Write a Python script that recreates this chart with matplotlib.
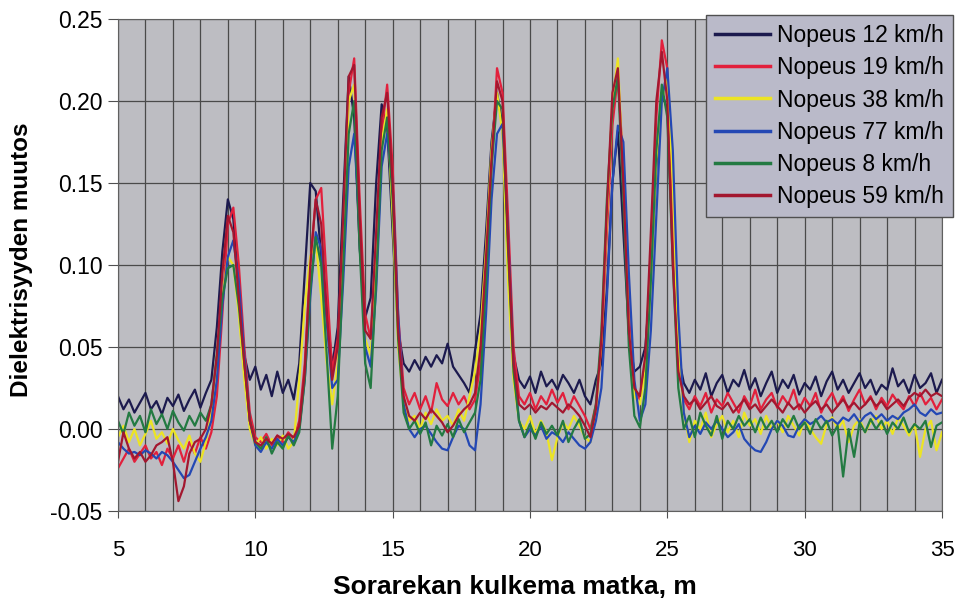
import numpy as np
import matplotlib
matplotlib.use("Agg")
import matplotlib.pyplot as plt
from matplotlib.ticker import MultipleLocator, FormatStrFormatter

plt.rcParams['font.family'] = ['Liberation Sans', 'DejaVu Sans']
plt.rcParams['axes.unicode_minus'] = False

# mittauspisteet 0.2 m välein (5 ... 35 m)
matka = np.round(np.arange(5.0, 35.01, 0.2), 1)

# dielektrisyyden muutos, arvot tuhannesosina (x 0.001), 10 arvoa / 2 m
v12 = [20, 12, 18, 10, 16, 22, 12, 17, 9, 19,
       14, 21, 11, 18, 24, 13, 22, 30, 62, 108,
       140, 128, 85, 45, 30, 38, 24, 33, 20, 35,
       22, 30, 18, 40, 95, 150, 145, 105, 75, 38,
       62, 140, 215, 190, 110, 68, 80, 150, 198, 185,
       120, 60, 40, 35, 42, 36, 44, 38, 45, 40,
       52, 38, 33, 28, 22, 48, 70, 120, 175, 205,
       185, 100, 45, 30, 25, 32, 22, 35, 26, 30,
       24, 33, 28, 22, 30, 20, 15, 30, 40, 85,
       150, 182, 120, 58, 35, 38, 50, 95, 160, 205,
       195, 110, 45, 28, 22, 30, 24, 34, 20, 28,
       33, 22, 30, 26, 36, 24, 31, 20, 28, 35,
       22, 30, 25, 33, 21, 28, 24, 32, 20, 29,
       35, 24, 30, 22, 28, 34, 25, 30, 21, 27,
       24, 37, 26, 30, 22, 33, 25, 28, 34, 22,
       30]

v19 = [-24, -18, -12, -20, -15, -10, -18, -14, -22, -12,
       -18, -10, -20, -8, -15, -5, -12, -2, 20, 70,
       125, 135, 100, 50, 10, -5, -8, -3, -10, -4,
       -8, -2, -6, 5, 40, 100, 140, 147, 90, 35,
       55, 120, 205, 226, 140, 70, 55, 110, 180, 210,
       160, 70, 25, 15, 22, 12, 20, 10, 28, 18,
       14, 22, 15, 20, 12, 18, 40, 95, 160, 220,
       205, 130, 50, 20, 15, 22, 12, 20, 15, 24,
       16, 22, 12, 20, 14, 8, 0, 15, 50, 120,
       185, 215, 160, 70, 25, 18, 40, 110, 190, 237,
       220, 120, 40, 18, 12, 20, 14, 22, 10, 18,
       14, 22, 16, 10, 20, 14, 24, 12, 18, 22,
       13, 20, 15, 24, 12, 19, 14, 22, 10, 17,
       22, 14, 20, 11, 18, 24, 15, 20, 12, 19,
       14, 21, 16, 12, 20, 14, 22, 15, 19, 12,
       18]

v38 = [-5, 2, -8, 0, -10, -3, 5, -6, -2, -9,
       0, -7, -12, -4, -15, -20, -8, 10, 45, 80,
       105, 100, 70, 30, 0, -10, -5, -12, -6, -10,
       -4, -12, -8, 30, 75, 105, 115, 80, 40, 15,
       40, 110, 200, 210, 120, 55, 45, 100, 175, 195,
       130, 50, 15, 5, 8, 0, 10, 3, 12, 5,
       8, 2, 12, 5, 20, 35, 60, 110, 170, 205,
       180, 90, 30, 5, 0, 8, -3, 5, -2, -19,
       -5, 4, 0, 8, 2, -5, -8, 10, 55, 130,
       200, 226, 150, 60, 20, 15, 35, 90, 165, 200,
       215, 150, 50, 10, -8, 5, 0, 10, -5, 3,
       8, -2, 5, -5, 10, 2, 6, -3, 8, 0,
       5, -2, 8, 2, -4, 6, 0, -5, -9, 3,
       7, 0, 5, -8, 2, 6, -2, 4, 8, 0,
       5, -3, 7, 2, -4, 3, -17, 0, 5, -13,
       -2]

v77 = [-8, -12, -15, -14, -16, -13, -15, -18, -14, -16,
       -20, -25, -30, -28, -20, -12, -5, 5, 30, 75,
       105, 115, 90, 45, 5, -10, -14, -8, -12, -6,
       -10, -5, -8, 0, 30, 80, 120, 110, 65, 25,
       30, 90, 160, 180, 120, 50, 38, 85, 160, 180,
       150, 70, 15, 0, -5, 0, 2, -3, -8, -12,
       -13, -5, 2, 0, -10, -13, 15, 70, 140, 180,
       186, 120, 40, 5, -5, 0, -4, 2, -6, -2,
       -4, -8, -2, -6, -10, -12, -8, 5, 25, 80,
       150, 185, 175, 95, 30, 5, 15, 60, 130, 200,
       220, 170, 70, 10, -5, 2, -3, 4, 0, 5,
       0, -5, -2, 3, -6, -10, -13, -14, -8, 0,
       5, 2, -4, -5, 2, 6, 3, 5, 8, 4,
       6, 3, 7, 5, 9, 4, 8, 10, 6, 9,
       5, 8, 6, 10, 12, 15, 10, 8, 12, 9,
       10]

v8 = [5, -3, 10, 2, 8, -2, 12, 3, 9, 0,
      11, 4, -1, 8, 2, 10, 5, 15, 45, 80,
      98, 100, 75, 40, 5, -8, -12, -5, -15, -8,
      -12, -4, -10, -2, 30, 85, 117, 100, 45, -12,
      20, 100, 180, 200, 110, 40, 25, 90, 170, 190,
      140, 55, 10, 0, 5, -3, 4, -10, 2, -4,
      3, -5, 6, -2, 4, 10, 30, 90, 160, 200,
      195, 110, 35, 5, -5, 3, -6, 4, -3, 2,
      -4, 5, -8, 0, 6, -6, -3, 15, 60, 140,
      195, 215, 140, 50, 8, 1, 25, 90, 170, 210,
      190, 100, 25, 0, 8, -5, 10, 2, -4, 8,
      -6, 5, 0, 8, 2, 6, -2, 7, 0, 5,
      -2, 6, 1, 8, 0, 4, -3, 6, 0, 5,
      -4, 2, -29, 0, -17, 4, -2, 6, 0, 5,
      -3, 4, 0, 7, -2, 3, 0, 5, -11, 2,
      4]

v59 = [-20, -2, -12, -18, -14, -20, -16, -10, -8, -5,
       -20, -44, -35, -15, -8, -6, 0, 15, 45, 95,
       130, 120, 80, 40, 5, -8, -10, -6, -9, -4,
       -6, -3, -5, 2, 35, 100, 140, 125, 70, 30,
       50, 130, 215, 222, 130, 60, 55, 120, 190, 205,
       150, 60, 20, 8, 5, 10, 6, 12, 8, 4,
       -2, 2, 8, 12, 15, 22, 50, 105, 165, 212,
       200, 115, 40, 15, 12, 15, 10, 14, 12, 16,
       13, 10, 15, 12, 8, 2, -5, 12, 55, 135,
       205, 220, 150, 60, 25, 20, 45, 120, 200, 230,
       200, 100, 35, 20, 15, 18, 12, 16, 20, 14,
       12, 16, 10, 14, 18, 12, 15, 10, 14, 18,
       14, 10, 16, 12, 15, 10, 14, 17, 12, 15,
       10, 14, 18, 13, 16, 12, 15, 19, 14, 17,
       12, 15, 18, 14, 19, 22, 20, 24, 20, 22,
       20]

sarjat = [v12, v19, v38, v77, v8, v59]
nimet = ['Nopeus 12 km/h', 'Nopeus 19 km/h', 'Nopeus 38 km/h',
         'Nopeus 77 km/h', 'Nopeus 8 km/h', 'Nopeus 59 km/h']
varit = ['#1c1a4e', '#e2203c', '#ece424', '#2448b4', '#237a42', '#a3172f']

fig, ax = plt.subplots(figsize=(9.56, 6.02), dpi=100)
fig.subplots_adjust(left=0.1234, right=942 / 956, bottom=0.1512, top=0.9684)
ax.set_facecolor('#bdbdc2')
ax.set_axisbelow(True)

for vals, lab, col in zip(sarjat, nimet, varit):
    ax.plot(matka, np.array(vals) / 1000, color=col, lw=1.6, label=lab)

ax.set_xlim(5, 35)
ax.set_ylim(-0.05, 0.25)
ax.xaxis.set_major_locator(MultipleLocator(5))
ax.xaxis.set_minor_locator(MultipleLocator(1))
ax.yaxis.set_major_locator(MultipleLocator(0.05))
ax.yaxis.set_major_formatter(FormatStrFormatter('%.2f'))
ax.grid(which='both', axis='x', color='#4a4a4a', lw=0.9)
ax.grid(which='major', axis='y', color='#4a4a4a', lw=0.9)
ax.tick_params(which='minor', length=0)
ax.tick_params(axis='x', which='major', length=5, pad=16, labelsize=16, color='#505050')
ax.tick_params(axis='y', length=7, pad=4, labelsize=16.5, color='#505050')
for s in ax.spines.values():
    s.set_color('#606060')

ax.set_xlabel('Sorarekan kulkema matka, m', fontsize=19, fontweight='bold')
ax.xaxis.set_label_coords(0.482, -0.13)
ax.set_ylabel('Dielektrisyyden muutos', fontsize=17.5, fontweight='bold')
ax.yaxis.set_label_coords(-0.103, 0.51)

leg = ax.legend(loc='upper right', bbox_to_anchor=(953 / 956, 1 - 15 / 602),
                bbox_transform=fig.transFigure, fontsize=16.5, frameon=True,
                fancybox=False, framealpha=1, facecolor='#babac9',
                edgecolor='#505050', borderaxespad=0, borderpad=0.4,
                labelspacing=0.4, handlelength=2.4, handletextpad=0.3)
for line in leg.get_lines():
    line.set_linewidth(2.5)

fig.savefig('out.png', dpi=100)
